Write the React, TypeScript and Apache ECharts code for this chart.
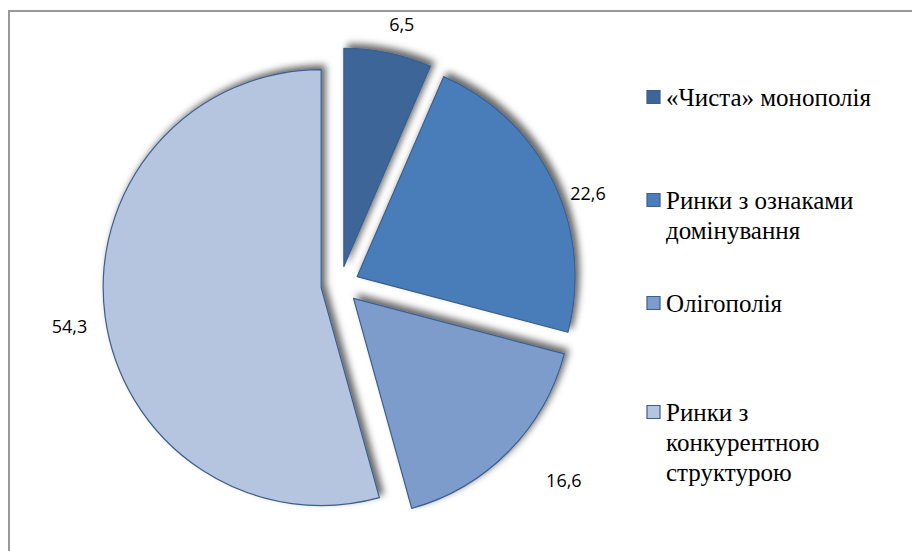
import React, { useEffect, useRef } from 'react';
import * as echarts from 'echarts';

const categories = [
  '«Чиста» монополія',
  'Ринки з ознаками домінування',
  'Олігополія',
  'Ринки з конкурентною структурою',
];
const legendLines = [
  ['«Чиста» монополія'],
  ['Ринки з ознаками', 'домінування'],
  ['Олігополія'],
  ['Ринки з', 'конкурентною', 'структурою'],
];
const shares = [6.5, 22.6, 16.6, 54.3];
const valueLabels = ['6,5', '22,6', '16,6', '54,3'];
const colors = ['#3C6598', '#4A7DBA', '#7D9CCB', '#B5C4DF'];
const labelLineLen = [30, 0, 40, 13];
const labelLineLen2 = [0, 12, 4, 0];
const labelGap = [-5, 5, 5, 5];
const labelShiftY = [0, 12, 0, 7];
const legendCenters = [97, 200, 303, 412];
const LEGEND_LINE = 30;
const LEGEND_FONT = 25;
const LEGEND_LEFT = 647;
const ICON = 13;
const EDGE = '#3A5F8E';

export default function App() {
  const ref = useRef<HTMLDivElement>(null);
  useEffect(() => {
    if (!ref.current) return;
    const chart = echarts.init(ref.current, undefined, { renderer: 'svg' });
    const data = categories.map((name, i) => ({
      name,
      value: shares[i],
      selected: true,
      itemStyle: { color: colors[i] },
      label: {
        formatter: valueLabels[i],
        distanceToLabelLine: labelGap[i],
      },
      labelLine: { show: false, length: labelLineLen[i], length2: labelLineLen2[i] },
    }));
    const legendGraphics: any[] = [];
    categories.forEach((name, i) => {
      legendGraphics.push({
        type: 'rect',
        silent: true,
        shape: {
          x: LEGEND_LEFT,
          y: legendCenters[i] - ICON / 2,
          width: ICON,
          height: ICON,
        },
        style: { fill: colors[i], stroke: EDGE, lineWidth: 1.2 },
      });
      legendLines[i].forEach((line, k) => {
        legendGraphics.push({
          type: 'text',
          x: LEGEND_LEFT + ICON + 6,
          y: legendCenters[i] + k * LEGEND_LINE - LEGEND_FONT / 2,
          style: {
            text: line,
            font: `${LEGEND_FONT}px "Liberation Serif", "Times New Roman", serif`,
            fill: '#000',
          },
        });
      });
    });
    chart.setOption({
      animation: false,
      backgroundColor: '#fff',
      graphic: [
        {
          type: 'rect',
          silent: true,
          shape: { x: 9, y: 11, width: 1000, height: 1000 },
          style: { fill: 'none', stroke: '#999', lineWidth: 2 },
        },
        ...legendGraphics,
      ],
      series: [
        {
          type: 'pie',
          center: [340, 285],
          radius: 218,
          startAngle: 90,
          clockwise: true,
          selectedMode: 'multiple',
          selectedOffset: 19,
          avoidLabelOverlap: false,
          emphasis: { disabled: true },
          itemStyle: {
            borderColor: EDGE,
            borderWidth: 1.2,
            shadowBlur: 7,
            shadowColor: 'rgba(0,0,0,0.6)',
            shadowOffsetX: 4,
            shadowOffsetY: -4,
          },
          label: {
            show: true,
            position: 'outside',
            fontFamily: 'Open Sans',
            fontSize: 18,
            color: '#000',
          },
          labelLayout: (params: any) => ({ dy: labelShiftY[params.dataIndex] }),
          data,
        },
      ],
    });
    return () => chart.dispose();
  }, []);
  return (
    <div
      ref={ref}
      style={{ position: 'fixed', left: 0, top: 0, width: 912, height: 551 }}
    />
  );
}
